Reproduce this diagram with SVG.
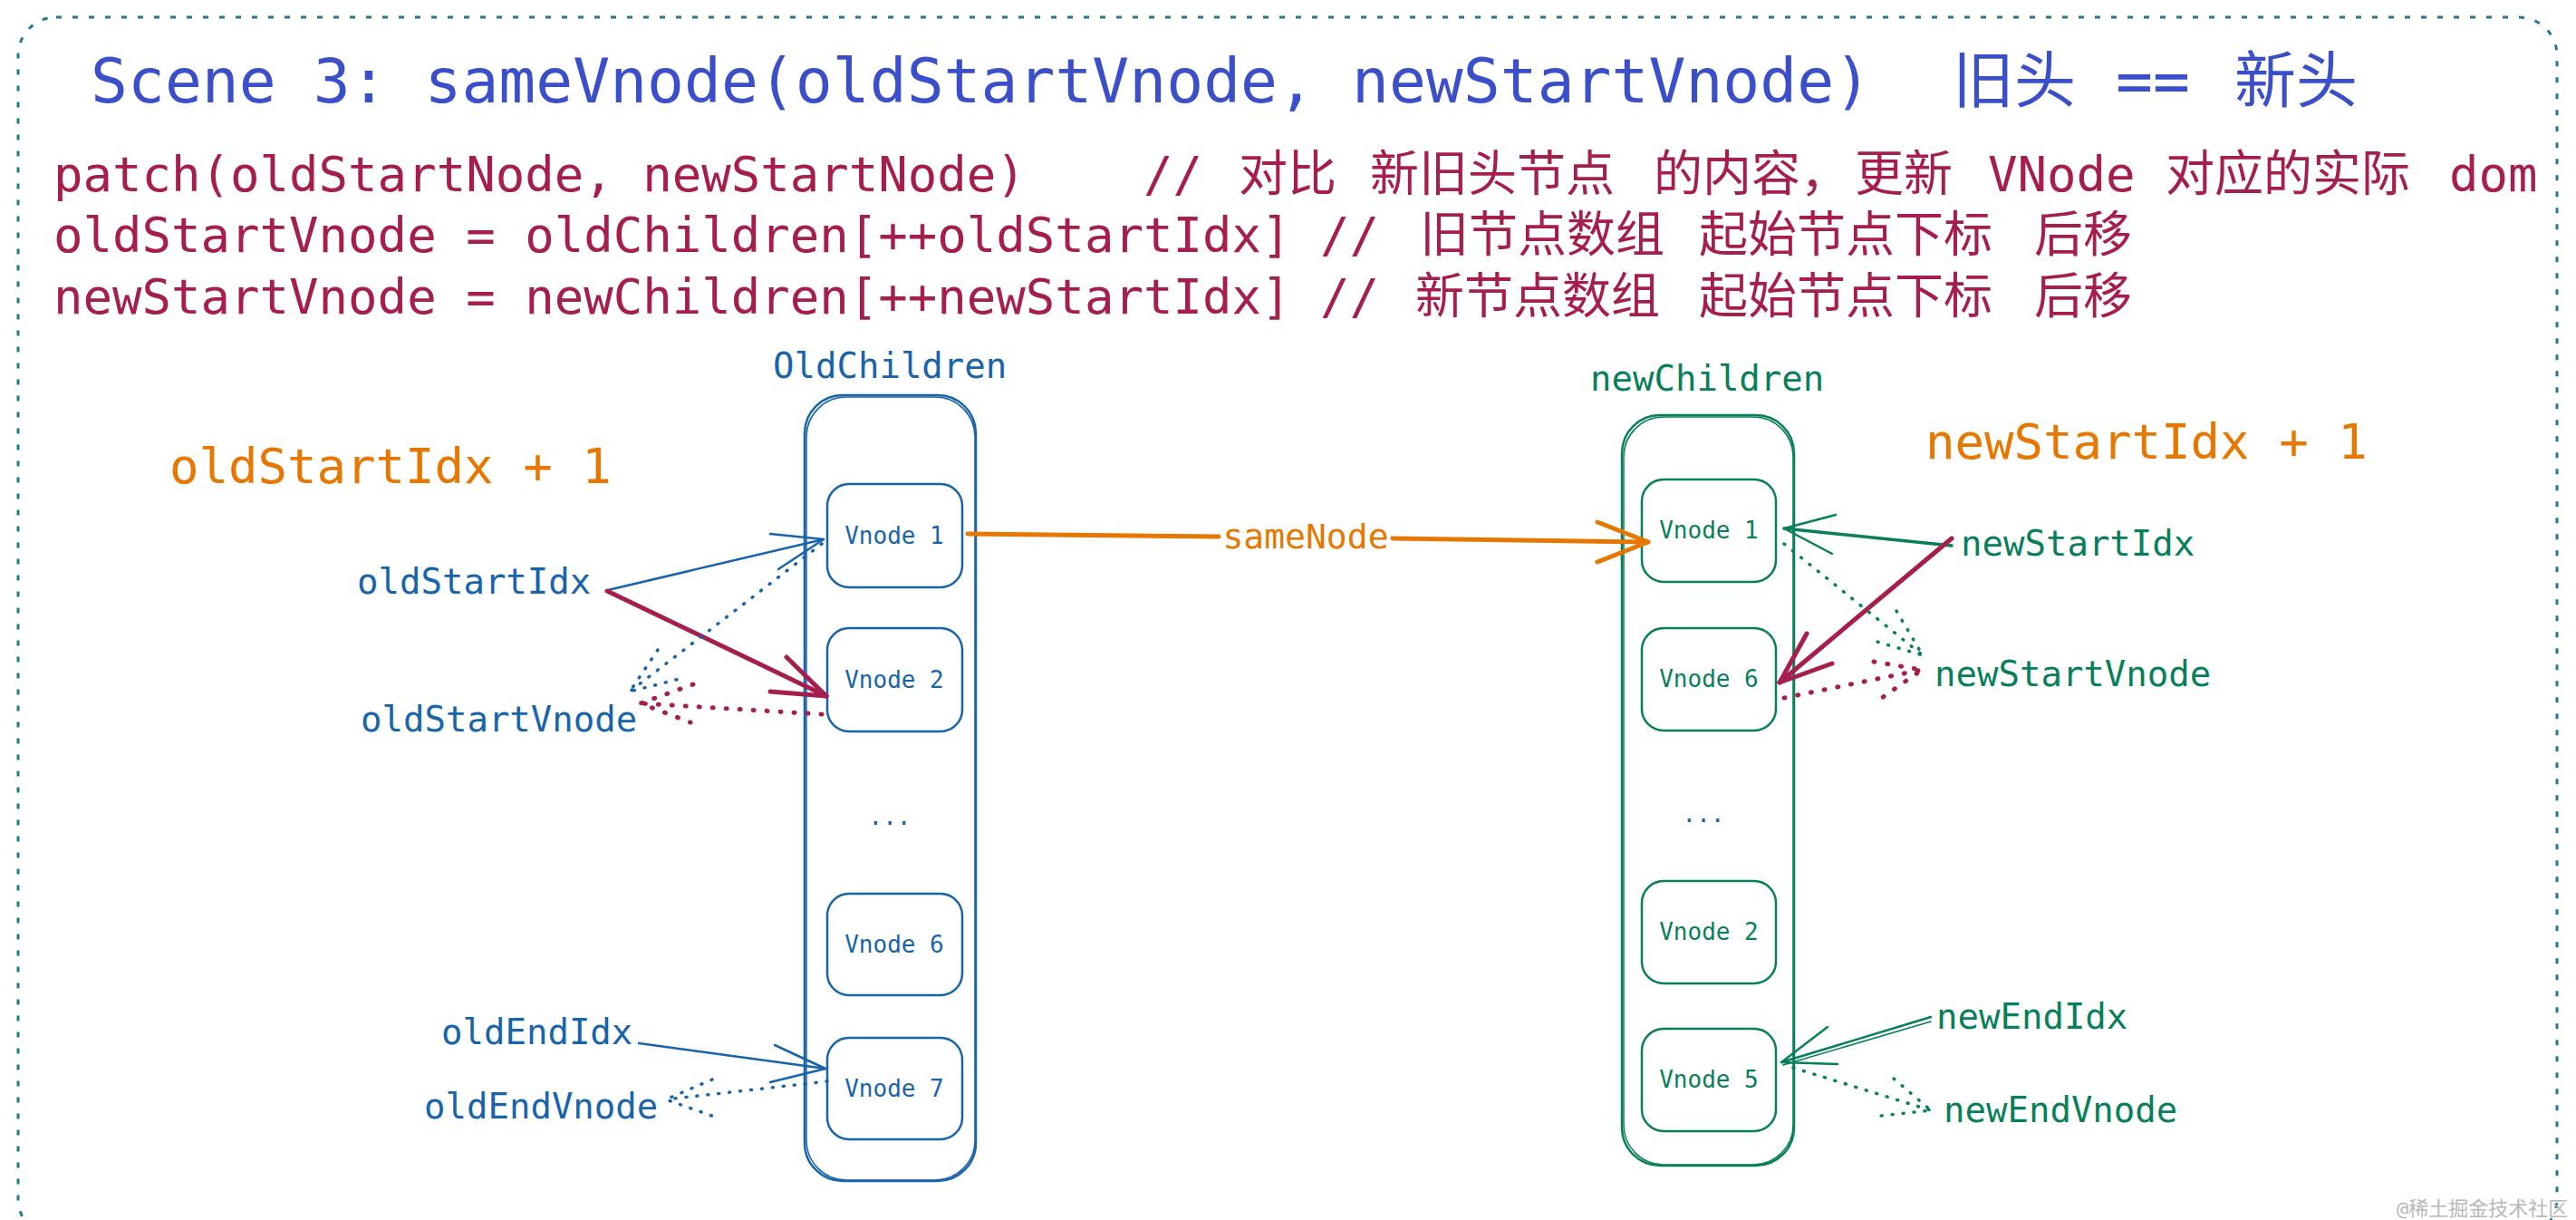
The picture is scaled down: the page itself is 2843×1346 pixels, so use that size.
<svg xmlns="http://www.w3.org/2000/svg" width="2843" height="1346" viewBox="0 0 2843 1346">
<style>
  text { font-family: "DejaVu Sans Mono", "Noto Sans CJK SC", monospace; }
  .title { font-size: 68px; fill: #3a4fc9; }
  .code { font-size: 54px; fill: #a61e4d; }
  .orange-t { font-size: 54px; fill: #e67700; }
  .lbl { font-size: 39px; }
  .vn { font-size: 26px; text-anchor: middle; }
  .tb { fill: #1864ab; }
  .tg { fill: #087f5b; }
  .sb { fill: none; stroke: #1864ab; stroke-linecap: round; stroke-linejoin: round; }
  .sg { fill: none; stroke: #087f5b; stroke-linecap: round; stroke-linejoin: round; }
  .sr { fill: none; stroke: #a61e4d; stroke-linecap: round; stroke-linejoin: round; }
  .so { fill: none; stroke: #e67700; stroke-linecap: round; stroke-linejoin: round; }
  .cont { stroke-width: 2.5; }
  .cont2 { stroke-width: 1.5; }
  .box { stroke-width: 2.5; }
  .thin { stroke-width: 2.5; }
  .thick { stroke-width: 5; }
  .dot { stroke-width: 3.5; stroke-dasharray: 1 11; }
  .dotr { stroke-width: 5; stroke-dasharray: 1 14; }
</style>
<rect x="0" y="0" width="2843" height="1346" fill="#ffffff"/>

<g id="frame">
  <rect x="20" y="19" width="2802" height="1346" rx="42" fill="none" stroke="#1e7a8c" stroke-width="3" stroke-dasharray="6 12"/>
</g>

<g id="header">
  <text class="title" x="100" y="113">Scene 3: sameVnode(oldStartVnode, newStartVnode)<tspan x="2155">旧头</tspan><tspan x="2335">==</tspan><tspan x="2466">新头</tspan></text>
  <text class="code" x="59" y="211" xml:space="preserve">patch(oldStartNode, newStartNode)    //<tspan x="1367">对比</tspan><tspan x="1512">新旧头节点</tspan><tspan x="1825">的内容，</tspan><tspan x="2047">更新</tspan><tspan x="2194">VNode</tspan><tspan x="2390">对应的实际</tspan><tspan x="2703">dom</tspan></text>
  <text class="code" x="59" y="278">oldStartVnode = oldChildren[++oldStartIdx] //<tspan x="1567">旧节点数组</tspan><tspan x="1875">起始节点下标</tspan><tspan x="2245">后移</tspan></text>
  <text class="code" x="59" y="346">newStartVnode = newChildren[++newStartIdx] //<tspan x="1562">新节点数组</tspan><tspan x="1875">起始节点下标</tspan><tspan x="2245">后移</tspan></text>
  <text class="orange-t" x="187" y="533" xml:space="preserve">oldStartIdx + 1</text>
  <text class="orange-t" x="2125" y="506" xml:space="preserve">newStartIdx + 1</text>
</g>

<g id="old-children">
  <text class="lbl tb" x="853" y="417">OldChildren</text>
  <rect class="sb cont" x="888" y="436" width="189" height="867" rx="42"/>
  <rect class="sb cont2" x="890" y="438" width="186" height="864" rx="44"/>
  <text class="vn tb" x="982" y="910">...</text>
</g>
<g id="old-vnode-1">
  <rect class="sb box" x="913" y="534" width="149" height="114" rx="24"/>
  <text class="vn tb" x="987" y="600">Vnode 1</text>
</g>
<g id="old-vnode-2">
  <rect class="sb box" x="913" y="693" width="149" height="114" rx="24"/>
  <text class="vn tb" x="987" y="759">Vnode 2</text>
</g>
<g id="old-vnode-6">
  <rect class="sb box" x="913" y="986" width="149" height="112" rx="24"/>
  <text class="vn tb" x="987" y="1051">Vnode 6</text>
</g>
<g id="old-vnode-7">
  <rect class="sb box" x="913" y="1145" width="149" height="112" rx="24"/>
  <text class="vn tb" x="987" y="1210">Vnode 7</text>
</g>

<g id="new-children">
  <text class="lbl tg" x="1755" y="431">newChildren</text>
  <rect class="sg cont" x="1790" y="458" width="190" height="828" rx="42"/>
  <rect class="sg cont2" x="1792" y="460" width="187" height="825" rx="44"/>
  <text class="vn tb" x="1880" y="907">...</text>
</g>
<g id="new-vnode-1">
  <rect class="sg box" x="1812" y="529" width="148" height="113" rx="24"/>
  <text class="vn tg" x="1886" y="594">Vnode 1</text>
</g>
<g id="new-vnode-6">
  <rect class="sg box" x="1812" y="693" width="148" height="113" rx="24"/>
  <text class="vn tg" x="1886" y="758">Vnode 6</text>
</g>
<g id="new-vnode-2">
  <rect class="sg box" x="1812" y="972" width="148" height="113" rx="24"/>
  <text class="vn tg" x="1886" y="1037">Vnode 2</text>
</g>
<g id="new-vnode-5">
  <rect class="sg box" x="1812" y="1135" width="148" height="113" rx="24"/>
  <text class="vn tg" x="1886" y="1200">Vnode 5</text>
</g>

<g id="pointer-labels">
  <text class="lbl tb" x="394" y="655">oldStartIdx</text>
  <text class="lbl tb" x="398" y="807">oldStartVnode</text>
  <text class="lbl tb" x="487" y="1152">oldEndIdx</text>
  <text class="lbl tb" x="468" y="1234">oldEndVnode</text>
  <text class="lbl tg" x="2164" y="613">newStartIdx</text>
  <text class="lbl tg" x="2135" y="757">newStartVnode</text>
  <text class="lbl tg" x="2137" y="1135">newEndIdx</text>
  <text class="lbl tg" x="2145" y="1238">newEndVnode</text>
</g>

<g id="connectors">
  <path class="sb thin" d="M671 651 L909 595"/>
  <path class="sb thin" d="M850 589 L909 595 L859 628"/>
  <path class="sr thick" d="M670 652 L912 768"/>
  <path class="sr thick" d="M868 725 L912 768 L850 763"/>
  <path class="sb dot" d="M907 600 L695 763"/>
  <path class="sb dot" d="M726 717 L695 763 L750 749"/>
  <path class="sr dotr" d="M907 788 L707 776"/>
  <path class="sr dotr" d="M765 755 L707 776 L762 797"/>
  <path class="so thick" d="M1068 589 L1345 592"/>
  <path class="so thick" d="M1537 594 L1819 598"/>
  <path class="so thick" d="M1763 576 L1819 598 L1763 620"/>
  <text x="1441" y="605" font-size="38" fill="#e67700" text-anchor="middle">sameNode</text>
  <path class="sg" stroke-width="3.5" d="M2154 602 L1969 583"/>
  <path class="sg thin" d="M2026 568 L1969 583 L2022 611"/>
  <path class="sr thick" d="M2154 594 L1964 753"/>
  <path class="sr thick" d="M1994 699 L1964 753 L2022 732"/>
  <path class="sg dot" d="M1969 600 L2122 723"/>
  <path class="sg dot" d="M2093 674 L2122 723 L2065 706"/>
  <path class="sr dotr" d="M1969 770 L2121 739"/>
  <path class="sr dotr" d="M2068 730 L2121 739 L2074 772"/>
  <path class="sb thin" d="M705 1151 L911 1179"/>
  <path class="sb thin" d="M855 1153 L911 1179 L850 1194"/>
  <path class="sb dot" d="M913 1193 L735 1213"/>
  <path class="sb dot" d="M786 1191 L735 1213 L791 1233"/>
  <path class="sg thin" d="M2131 1122 L1966 1172"/>
  <path class="sg" stroke-width="1.5" d="M2131 1127 L1968 1175"/>
  <path class="sg thin" d="M2017 1133 L1966 1172 L2028 1174"/>
  <path class="sg dot" d="M1979 1178 L2131 1225"/>
  <path class="sg dot" d="M2090 1190 L2131 1225 L2076 1231"/>
</g>

<g id="watermark">
  <text x="2645" y="1341" font-size="22" fill="#b8b8b8">@稀土掘金技术社区</text>
</g>
</svg>
